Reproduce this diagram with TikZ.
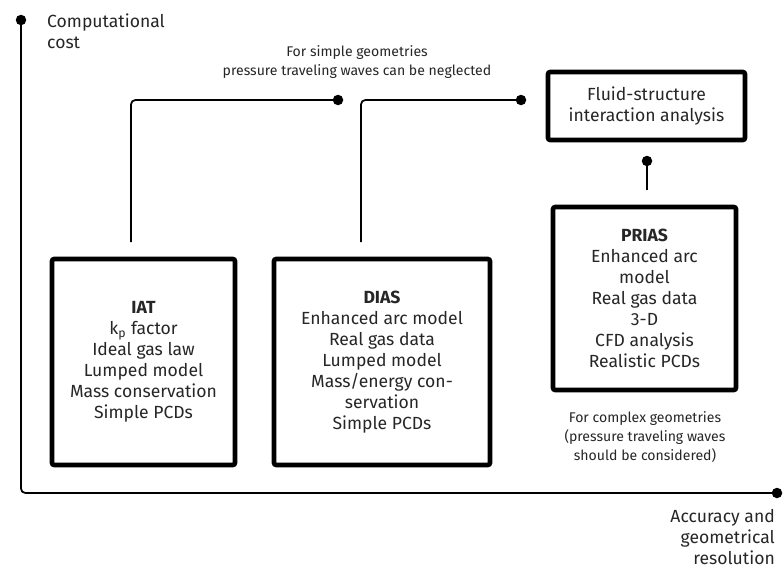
\documentclass[tikz,border=0pt]{standalone}
\usepackage{fontspec}
\setmainfont{Fira Sans}
\usepackage{xcolor}
\definecolor{InkGrey}{HTML}{262626}
\usetikzlibrary{positioning}

\tikzset{
  modelbox/.style={draw=black, line width=2.6pt, rounded corners=1.2pt, align=center,
    text=InkGrey, inner sep=0pt, font=\fontsize{10}{11.9}\selectfont},
  notetext/.style={align=center, text=InkGrey, font=\fontsize{8}{10.8}\selectfont},
  axistext/.style={text=InkGrey, font=\fontsize{10}{12.2}\selectfont},
  link/.style={line width=1pt, rounded corners=2.5pt},
  enddot/.style={circle, fill=black, inner sep=0pt, minimum size=0.21cm},
}

\begin{document}
\begin{tikzpicture}[x=0.02cm, y=-0.02cm]
  \useasboundingbox (0,0) rectangle (783,568);

  % axes
  \node[enddot] (costdot) at (21,20) {};
  \node[enddot] (accdot) at (777,493) {};
  \coordinate (origin) at (21,493);
  \draw[link] (costdot.center) -- (origin) -- (accdot.center);
  \node[axistext, anchor=west, align=left] (costlabel) at (41,31) {Computational\\cost};
  \node[axistext, anchor=east, align=right] (acclabel) at (781,537) {Accuracy and\\geometrical\\resolution};

  % model boxes
  \node[modelbox, minimum width=3.66cm, minimum height=4.12cm] (iat) at (143.5,362)
    {\textbf{IAT}\\k\textsubscript{p} factor\\Ideal gas law\\Lumped model\\Mass conservation\\Simple PCDs};
  \node[modelbox, minimum width=4.32cm, minimum height=4.12cm] (dias) at (382,362)
    {\textbf{DIAS}\\Enhanced arc model\\Real gas data\\Lumped model\\Mass/energy con-\\servation\\Simple PCDs};
  \node[modelbox, minimum width=3.66cm, minimum height=3.66cm] (prias) at (644.5,298.5)
    {\textbf{PRIAS}\\Enhanced arc\\model\\Real gas data\\3-D\\CFD analysis\\Realistic PCDs};
  \node[modelbox, minimum width=3.94cm, minimum height=1.36cm] (fsi) at (646.5,106)
    {Fluid-structure\\interaction analysis};

  % notes
  \node[notetext] (simplenote) at (357,62) {For simple geometries\\pressure traveling waves can be neglected};
  \node[notetext] (complexnote) at (645,437) {For complex geometries\\(pressure traveling waves\\should be considered)};

  % connectors
  \coordinate (iatup) at (131,242);
  \coordinate (diasup) at (361,242);
  \coordinate (priasup) at (647,190);
  \node[enddot] (iatdot) at (338,100) {};
  \node[enddot] (diasdot) at (521,100) {};
  \node[enddot] (priasdot) at (647,161) {};
  \draw[link] (iatup) |- (iatdot.center);
  \draw[link] (diasup) |- (diasdot.center);
  \draw[link] (priasup) -- (priasdot.center);
\end{tikzpicture}
\end{document}
